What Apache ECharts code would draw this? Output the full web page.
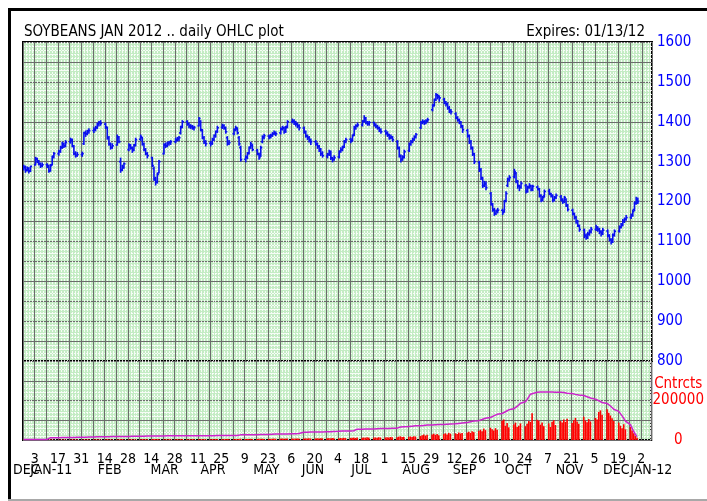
<!DOCTYPE html>
<html>
<head>
<meta charset="utf-8">
<script src="https://cdn.jsdelivr.net/npm/echarts@6/dist/echarts.min.js"></script>
<style>
  html, body { margin: 0; padding: 0; background: #fff; }
  #chart { width: 707px; height: 501px; }
</style>
</head>
<body>
<div id="chart"></div>
<script>
// x axis is in calendar days, day 0 = Mon 27 Dec 2010; bars are weekdays from there
// daily bars [open, high, low, close], one line per week
const ohlc = [
  [1282,1292,1278,1285],[1286,1290,1272,1278],[1279,1288,1275,1282],[1283,1286,1270,1276],[1277,1290,1274,1288],
  [1292,1312,1290,1308],[1306,1310,1296,1300],[1300,1304,1290,1295],[1294,1298,1284,1290],[1290,1298,1286,1292],
  [1292,1296,1284,1290],[1288,1292,1272,1276],[1278,1294,1275,1290],[1292,1315,1290,1312],[1314,1324,1308,1320],
  [1320,1330,1315,1325],[1326,1340,1322,1335],[1336,1350,1332,1345],[1344,1348,1334,1340],[1340,1354,1336,1348],
  [1350,1360,1345,1355],[1354,1358,1336,1340],[1338,1342,1316,1320],[1320,1326,1310,1315],[1316,1324,1312,1318],
  [1318,1325,1312,1320],[1345,1375,1342,1372],[1372,1378,1362,1370],[1370,1380,1366,1375],[1376,1384,1370,1378],
  [1378,1386,1372,1380],[1381,1390,1376,1385],[1386,1398,1382,1395],[1394,1402,1388,1398],[1398,1404,1390,1396],
  [1394,1398,1382,1387],[1385,1388,1355,1360],[1360,1364,1340,1345],[1344,1348,1330,1335],[1336,1346,1332,1340],
  [1342,1368,1340,1362],[1360,1364,1346,1350],[1300,1310,1272,1278],[1280,1292,1276,1285],[1286,1298,1282,1295],
  [1330,1346,1326,1342],[1340,1344,1330,1335],[1334,1338,1322,1328],[1330,1344,1326,1340],[1342,1360,1338,1355],
  [1356,1368,1352,1363],[1360,1362,1340,1345],[1344,1348,1326,1330],[1330,1334,1316,1320],[1320,1324,1308,1315],
  [1310,1312,1286,1290],[1282,1288,1252,1258],[1254,1262,1240,1248],[1250,1272,1245,1268],[1272,1304,1270,1300],
  [1320,1346,1318,1342],[1342,1348,1334,1340],[1340,1350,1336,1345],[1346,1352,1340,1348],[1348,1354,1342,1350],
  [1350,1360,1346,1355],[1354,1362,1350,1357],[1358,1364,1352,1360],[1372,1390,1368,1385],[1388,1404,1384,1400],
  [1400,1404,1390,1395],[1394,1398,1384,1390],[1390,1394,1382,1388],[1388,1392,1380,1385],[1384,1390,1378,1386],
  [1390,1412,1388,1408],[1400,1404,1376,1380],[1378,1382,1356,1360],[1360,1364,1344,1350],[1350,1354,1338,1345],
  [1346,1352,1338,1345],[1346,1360,1342,1355],[1356,1368,1352,1365],[1366,1378,1360,1375],[1376,1390,1372,1385],
  [1386,1395,1382,1390],[1390,1394,1380,1385],[1384,1388,1370,1375],[1360,1364,1340,1345],[1346,1354,1342,1348],
  [1370,1384,1366,1380],[1380,1390,1376,1385],[1382,1386,1368,1372],[1360,1364,1340,1345],[1335,1340,1300,1305],
  [1306,1316,1298,1310],[1312,1324,1306,1320],[1322,1338,1318,1335],[1336,1350,1332,1345],[1340,1344,1326,1330],
  [1328,1332,1316,1320],[1318,1322,1305,1310],[1315,1340,1312,1335],[1350,1366,1346,1362],[1360,1370,1356,1365],
  [1364,1368,1356,1362],[1362,1370,1358,1365],[1366,1374,1362,1370],[1370,1378,1366,1372],[1372,1376,1364,1370],
  [1372,1386,1368,1382],[1382,1390,1378,1385],[1384,1388,1370,1375],[1376,1390,1372,1385],[1388,1404,1384,1400],
  [1400,1408,1396,1402],[1402,1406,1392,1398],[1398,1402,1388,1395],[1394,1398,1384,1390],[1390,1394,1378,1385],
  [1384,1388,1370,1375],[1374,1378,1360,1365],[1364,1368,1354,1360],[1360,1364,1348,1355],[1354,1358,1342,1350],
  [1350,1354,1340,1345],[1344,1348,1332,1338],[1338,1342,1324,1330],[1330,1334,1314,1320],[1320,1326,1310,1315],
  [1314,1322,1308,1318],[1318,1330,1314,1325],[1324,1328,1304,1310],[1308,1312,1298,1305],[1306,1316,1302,1310],
  [1312,1328,1308,1325],[1326,1336,1322,1330],[1330,1340,1326,1335],[1338,1354,1334,1350],[1350,1360,1346,1355],
  [1356,1360,1346,1352],[1354,1368,1350,1365],[1368,1390,1364,1385],[1384,1394,1380,1390],[1390,1398,1386,1392],
  [1392,1404,1388,1400],[1402,1416,1398,1410],[1408,1412,1394,1398],[1398,1402,1390,1395],[1396,1402,1390,1398],
  [1398,1400,1388,1392],[1392,1396,1384,1388],[1388,1392,1380,1385],[1384,1388,1374,1380],[1380,1384,1370,1375],
  [1376,1380,1366,1372],[1372,1376,1362,1368],[1366,1370,1355,1360],[1360,1368,1356,1362],[1360,1364,1350,1355],
  [1350,1354,1330,1335],[1334,1338,1310,1315],[1314,1318,1298,1305],[1306,1316,1302,1310],[1312,1330,1308,1325],
  [1328,1348,1324,1345],[1344,1354,1340,1350],[1350,1360,1346,1355],[1356,1366,1352,1362],[1362,1372,1358,1368],
  [1385,1402,1382,1398],[1398,1406,1394,1400],[1400,1404,1392,1398],[1398,1406,1394,1402],[1402,1410,1398,1405],
  [1430,1444,1426,1440],[1442,1458,1438,1455],[1456,1472,1452,1468],[1466,1470,1456,1465],[1462,1466,1450,1460],
  [1456,1460,1444,1450],[1448,1452,1438,1445],[1444,1448,1430,1435],[1434,1440,1422,1428],[1428,1432,1418,1425],
  [1420,1424,1406,1410],[1410,1414,1400,1405],[1404,1408,1394,1400],[1398,1402,1384,1390],[1388,1392,1372,1380],
  [1378,1382,1360,1365],[1364,1368,1344,1350],[1350,1354,1330,1335],[1334,1338,1314,1320],[1318,1322,1294,1300],
  [1298,1302,1274,1280],[1278,1284,1254,1260],[1258,1262,1234,1240],[1240,1252,1236,1245],[1244,1250,1228,1235],
  [1220,1224,1190,1195],[1192,1196,1174,1180],[1178,1184,1164,1170],[1170,1180,1166,1175],[1176,1184,1170,1178],
  [1178,1182,1166,1172],[1176,1204,1172,1200],[1202,1226,1198,1220],[1240,1260,1236,1255],[1256,1266,1250,1260],
  [1262,1282,1258,1275],[1270,1274,1246,1250],[1250,1254,1232,1240],[1238,1242,1226,1235],[1236,1250,1232,1245],
  [1240,1244,1220,1225],[1226,1240,1222,1235],[1236,1246,1232,1240],[1238,1242,1226,1230],[1230,1242,1226,1238],
  [1236,1240,1228,1232],[1230,1234,1210,1215],[1214,1218,1198,1205],[1204,1214,1200,1210],[1214,1230,1210,1225],
  [1226,1232,1216,1220],[1218,1222,1210,1215],[1214,1218,1198,1205],[1204,1214,1200,1210],[1210,1220,1206,1215],
  [1212,1216,1200,1205],[1204,1208,1194,1200],[1200,1214,1196,1210],[1205,1208,1186,1190],[1190,1194,1175,1180],
  [1178,1182,1165,1170],[1168,1172,1155,1160],[1160,1164,1144,1150],[1150,1154,1136,1140],[1138,1142,1124,1130],
  [1128,1132,1108,1115],[1114,1120,1104,1110],[1110,1124,1106,1118],[1118,1130,1114,1125],[1124,1136,1120,1130],
  [1130,1142,1126,1135],[1134,1138,1124,1130],[1130,1134,1118,1125],[1124,1128,1112,1120],[1120,1134,1116,1128],
  [1126,1130,1110,1115],[1114,1118,1100,1105],[1104,1108,1092,1098],[1100,1120,1096,1115],[1116,1130,1112,1125],
  [1126,1140,1122,1135],[1136,1146,1132,1140],[1142,1156,1138,1150],[1150,1160,1146,1155],[1156,1166,1152,1160],
  [1160,1170,1156,1165],[1166,1180,1162,1175],[1180,1200,1176,1195],[1196,1212,1192,1205],[1204,1210,1194,1200]
]

// daily volume (contracts)
const volume = [
  800,1200,1000,1500,900, 1100,1400,900,1600,1200, 1000,1300,2500,1800,1500, 1200,1800,1500,2000,1400,
  1600,2200,1900,1500,2100, 1800,2600,2200,1900,2400, 2000,2800,2400,3000,2200, 2600,3200,2800,2500,3000,
  2400,3000,4500,3200,2800, 2600,3400,2900,3100,2700, 3000,3600,3200,2800,3500, 3400,5000,4200,3600,3800,
  3000,3400,2800,3200,3600, 3200,3800,3000,4200,4600, 3600,3000,3400,3800,3200, 4400,3800,4200,3600,3400,
  3800,4200,3600,4000,4600, 4200,3800,4400,5200,4000, 4400,4800,4200,5600,6400, 5000,4600,5400,5800,5200,
  5600,6200,5800,6600,5400, 6000,5600,6400,7000,6200, 6800,7400,6400,7000,7800, 7200,6600,7400,8000,7000,
  7600,8200,7200,8600,7800, 8000,8800,7600,9000,8400, 8600,9400,8200,9800,8800, 9000,10000,9400,11000,9800,
  10000,11500,12000,10500,13000, 11000,12500,11500,13500,12000, 12000,13000,11500,14000,12500,
  13000,14500,12500,15000,13500, 14000,17000,18500,15500,16000, 16000,18000,15000,19000,17500,
  20000,24000,28000,22000,26000, 28000,32000,26000,30000,24000, 30000,34000,28000,36000,32000,
  34000,30000,38000,33000,36000, 38000,42000,36000,44000,40000, 46000,52000,44000,58000,50000,
  62000,55000,48000,60000,52000, 98000,104000,72000,86000,64000, 78000,88000,66000,72000,84000,
  70000,82000,96000,92000,136000, 102000,98000,78000,88000,70000, 84000,66000,92000,100000,76000,
  96000,88000,104000,92000,108000, 86000,100000,112000,94000,82000, 118000,98000,90000,106000,94000,
  112000,104000,142000,150000,128000, 156000,138000,124000,110000,96000, 88000,72000,60000,80000,54000,
  66000,48000,34000,20000,12000
]

// daily open interest (contracts)
const openInt = [
  3000,3000,3000,3000,3000, 3000,3000,3000,3000,3000, 3000,3000,12000,12000,12000,
  12000,12000,13000,13000,13000, 13000,13000,13000,14000,14000, 14000,14000,14000,14000,15000,
  15000,15000,17000,17000,17000, 17000,17000,17000,18000,18000, 18000,18000,18000,18000,18000,
  18000,19000,19000,19000,19000, 19000,19000,19000,19000,20000, 20000,20000,20000,20000,20000,
  20000,20000,21000,21000,21000, 21000,21000,21000,21000,21000, 21000,21000,22000,22000,22000,
  22000,22000,22000,22000,22000, 22000,22000,22000,22000,23000, 23000,23000,23000,23000,23000,
  23000,23000,23000,23000,26000, 26000,26000,26000,27000,27000, 27000,27000,28000,28000,28000,
  28000,29000,29000,29000,30000, 30000,30000,31000,31000,31000, 32000,32000,32000,33000,33000,
  39000,39000,39000,40000,40000, 40000,40000,41000,41000,41000, 42000,42000,42000,43000,43000,
  44000,45000,46000,46000,46000, 46000,46000,47000,48000,55000, 55000,55000,56000,56000,56000,
  56000,57000,57000,57000,58000, 58000,58000,58000,59000,59000, 60000,61000,66000,67000,67000,
  68000,69000,70000,71000,72000, 72000,73000,74000,75000,76000, 76000,77000,77000,78000,78000,
  79000,79000,80000,80000,81000, 82000,83000,84000,85000,86000, 88000,90000,92000,94000,96000,
  98000,101000,104000,107000,110000, 114000,118000,122000,126000,130000,
  134000,138000,143000,148000,153000, 158000,163000,170000,178000,186000,
  194000,205000,218000,232000,241000, 242000,243000,243000,243000,243000,
  243000,243000,243000,242000,242000, 242000,241000,240000,239000,237000,
  235000,233000,231000,229000,228000, 225000,222000,219000,216000,213000,
  207000,203000,199000,195000,190000, 185000,179000,172000,164000,156000,
  145000,135000,122000,110000,96000, 78000,60000,42000,28000,17000
]

// tick labels: every other Monday, and month names
const dayTickValues = [7,21,35,49,63,77,91,105,119,133,147,161,175,189,203,217,231,245,259,273,287,301,315,329,343,357,371]
const dayTickLabels = ['3','17','31','14','28','14','28','11','25','9','23','6','20','4','18','1','15','29','12','26','10','24','7','21','5','19','2']
const monthPos = [2,17,52,85,114,146,174,203,236,265,297,328,356,377]
const monthLabels = ['DEC','JAN-11','FEB','MAR','APR','MAY','JUN','JUL','AUG','SEP','OCT','NOV','DEC','JAN-12']
const volLabelValues = [0, 200000]
const volUnitPos = 284000   // where the "Cntrcts" caption sits on the volume scale

const FONT = "'Liberation Sans Narrow','DejaVu Sans Condensed','Liberation Sans',sans-serif"
const X_MAX = 377

// weekday index -> calendar day offset
function tradingX(i) {
  return Math.floor(i / 5) * 7 + (i % 5) + 0.5
}

function renderOhlc(params, api) {
  const x = api.value(0)
  const o = api.coord([x, api.value(1)])
  const h = api.coord([x, api.value(2)])
  const l = api.coord([x, api.value(3)])
  const c = api.coord([x, api.value(4)])
  const style = { stroke: '#0a10f0', lineWidth: 1.6 }
  return {
    type: 'group',
    children: [
      { type: 'line', shape: { x1: h[0], y1: h[1], x2: l[0], y2: l[1] }, style },
      { type: 'line', shape: { x1: o[0] - 1.6, y1: o[1], x2: o[0], y2: o[1] }, style },
      { type: 'line', shape: { x1: c[0], y1: c[1], x2: c[0] + 1.6, y2: c[1] }, style }
    ]
  }
}

const majorLine = { show: true, lineStyle: { color: '#6c6c6c', width: 1 } }
const minorLine = { show: true, lineStyle: { color: '#ffffff', width: 1, type: [2, 1], opacity: 0.85 } }

function dayAxis(gridIndex) {
  return {
    type: 'value', gridIndex, min: 0, max: X_MAX, interval: 7,
    axisLine: { show: false }, axisTick: { show: false }, axisLabel: { show: false },
    splitLine: majorLine,
    minorTick: { show: false, splitNumber: 4 },
    minorSplitLine: minorLine
  }
}

// label-only axis under the volume panel, for month names
// (the first DEC gets its own axis so it may overlap JAN-11 like the original)
function monthAxis(from, to) {
  const vals = monthPos.slice(from, to)
  return {
    type: 'value', gridIndex: 1, min: 0, max: X_MAX, position: 'bottom',
    axisLine: { show: false }, axisTick: { show: false }, splitLine: { show: false },
    axisLabel: {
      customValues: vals, margin: 23, hideOverlap: false,
      color: '#000', fontSize: 14, fontFamily: FONT, lineHeight: 14,
      formatter: v => monthLabels[monthPos.indexOf(v)] || ''
    }
  }
}

const chart = echarts.init(document.getElementById('chart'))

const bottomDays = dayAxis(1)
bottomDays.axisLabel = {
  show: true, customValues: dayTickValues, margin: 12, hideOverlap: false,
  color: '#000', fontSize: 14, fontFamily: FONT, lineHeight: 14,
  formatter: v => dayTickLabels[dayTickValues.indexOf(v)] || ''
}

chart.setOption({
  animation: false,
  backgroundColor: '#fff',
  title: [
    { text: 'SOYBEANS JAN 2012 .. daily OHLC plot', left: 24, top: 25, padding: 0,
      textStyle: { fontSize: 15, fontWeight: 'normal', color: '#000', fontFamily: FONT } },
    { text: 'Expires: 01/13/12', right: 62, top: 25, padding: 0,
      textStyle: { fontSize: 15, fontWeight: 'normal', color: '#000', fontFamily: FONT } }
  ],
  graphic: [
    { type: 'rect', shape: { x: 8, y: 8, width: 699, height: 3 }, style: { fill: '#000' } },
    { type: 'rect', shape: { x: 8, y: 8, width: 3, height: 491 }, style: { fill: '#000' } },
    { type: 'rect', shape: { x: 8, y: 499, width: 699, height: 2 }, style: { fill: '#a8a8a8' } }
  ],
  grid: [
    { left: 23, top: 42, width: 629, height: 319, show: true, backgroundColor: '#c4ecc4', borderColor: '#000', borderWidth: 2 },
    { left: 23, top: 361, width: 629, height: 79, show: true, backgroundColor: '#c4ecc4', borderColor: '#000', borderWidth: 2 }
  ],
  xAxis: [
    dayAxis(0),
    bottomDays,
    monthAxis(0, 1),
    monthAxis(1, monthPos.length)
  ],
  yAxis: [
    {
      type: 'value', gridIndex: 0, position: 'right', min: 800, max: 1600, interval: 50,
      axisLine: { show: false }, axisTick: { show: false },
      axisLabel: { margin: 5, color: '#0000ff', fontSize: 15, fontFamily: FONT,
        formatter: v => (v % 100 === 0 ? String(v) : '') },
      splitLine: majorLine,
      minorTick: { show: false, splitNumber: 5 },
      minorSplitLine: minorLine
    },
    {
      type: 'value', gridIndex: 1, position: 'right', min: 0, max: 400000, interval: 100000,
      axisLine: { show: false }, axisTick: { show: false },
      axisLabel: { customValues: volLabelValues, margin: 27, align: 'center', color: '#ff0000', fontSize: 15, fontFamily: FONT,
        formatter: v => String(v) },
      splitLine: majorLine,
      minorTick: { show: false, splitNumber: 5 },
      minorSplitLine: minorLine
    },
    {
      // caption above the volume scale
      type: 'value', gridIndex: 1, position: 'right', min: 0, max: 400000,
      axisLine: { show: false }, axisTick: { show: false }, splitLine: { show: false },
      axisLabel: { customValues: [volUnitPos], margin: 27, align: 'center', color: '#ff0000', fontSize: 15, fontFamily: FONT,
        formatter: () => 'Cntrcts' }
    }
  ],
  series: [
    {
      type: 'custom', xAxisIndex: 0, yAxisIndex: 0,
      renderItem: renderOhlc,
      encode: { x: 0, y: [1, 2, 3, 4] },
      data: ohlc.map((d, i) => [tradingX(i)].concat(d)),
      clip: true
    },
    {
      type: 'bar', xAxisIndex: 1, yAxisIndex: 1, barWidth: 1.6,
      itemStyle: { color: '#ff0000' },
      data: volume.map((v, i) => [tradingX(i), v])
    },
    {
      type: 'line', xAxisIndex: 1, yAxisIndex: 1, symbol: 'none',
      lineStyle: { color: '#cc22cc', width: 1.5 },
      data: openInt.map((v, i) => [tradingX(i), v])
    }
  ]
})
</script>
</body>
</html>
